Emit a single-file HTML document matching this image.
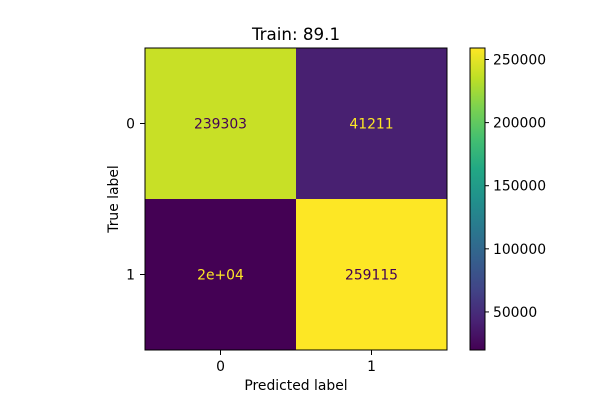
<!DOCTYPE html>
<html><head><meta charset="utf-8"><style>
html,body{margin:0;padding:0;background:#fff;}
svg text{font-family:"DejaVu Sans","Liberation Sans",sans-serif;}
</style></head><body>
<svg id="chart" width="600" height="400" xmlns="http://www.w3.org/2000/svg">
<defs>
<linearGradient id="vir" x1="0" y1="1" x2="0" y2="0">
<stop offset="0" stop-color="#440154"/><stop offset="0.1" stop-color="#482475"/>
<stop offset="0.2" stop-color="#414487"/><stop offset="0.3" stop-color="#355f8d"/>
<stop offset="0.4" stop-color="#2a788e"/><stop offset="0.5" stop-color="#21918c"/>
<stop offset="0.6" stop-color="#22a884"/><stop offset="0.7" stop-color="#44bf70"/>
<stop offset="0.8" stop-color="#7ad151"/><stop offset="0.9" stop-color="#bddf26"/>
<stop offset="1" stop-color="#fde725"/>
</linearGradient>
</defs>
<text x="296" y="40" text-anchor="middle" font-size="16.7" fill="#000">Train: 89.1</text>
<g id="cells"></g>
<rect x="145" y="48" width="302" height="302" fill="none" stroke="#000" stroke-width="1"/>
<g id="ticks"></g>
<text x="296" y="390" text-anchor="middle" font-size="13.9">Predicted label</text>
<text transform="translate(118,199) rotate(-90)" text-anchor="middle" font-size="13.9">True label</text>
<rect x="470" y="48" width="15" height="302" fill="url(#vir)" stroke="#000" stroke-width="1"/>
<g id="cbticks"></g>
</svg>
<script>
const classes = ["0","1"];
const values = [[239303, 41211],[19841, 259115]];
const valueLabels = [["239303","41211"],["2e+04","259115"]];
const cbTicks = [50000,100000,150000,200000,250000];
const cbTickLabels = ["50000","100000","150000","200000","250000"];

const vmin = 19841, vmax = 259115;
const NS = "http://www.w3.org/2000/svg";
const x0=145, y0=48, size=302, n=classes.length, cw=size/n;
const cbTop=48, cbBot=350, cbX=485;
const vir=["#440154","#482475","#414487","#355f8d","#2a788e","#21918c","#22a884","#44bf70","#7ad151","#bddf26","#fde725"];
function hex(c){return [1,3,5].map(i=>parseInt(c.substr(i,2),16));}
function cmap(t){t=Math.max(0,Math.min(1,t));const p=t*10,i=Math.min(9,Math.floor(p)),f=p-i;
 const a=hex(vir[i]),b=hex(vir[i+1]);return "rgb("+a.map((v,k)=>Math.round(v+(b[k]-v)*f)).join(",")+")";}
function norm(v){return (v-vmin)/(vmax-vmin);}
function cbY(v){return cbBot-norm(v)*(cbBot-cbTop);}
function el(tag,attrs,parent){const e=document.createElementNS(NS,tag);for(const k in attrs)e.setAttribute(k,attrs[k]);parent.appendChild(e);return e;}
const cells=document.getElementById("cells"), ticks=document.getElementById("ticks"), cb=document.getElementById("cbticks");
for(let r=0;r<n;r++)for(let c=0;c<n;c++){
 const v=values[r][c], t=norm(v);
 const rc=el("rect",{x:x0+c*cw,y:y0+r*cw,width:cw,height:cw,fill:cmap(t)},cells);
 
 
 const tx=el("text",{x:x0+c*cw+cw/2,y:y0+r*cw+cw/2+5,"text-anchor":"middle","font-size":"13.9",fill:t<0.5?"#fde725":"#440154"},cells);
 tx.textContent=valueLabels[r][c];
 
 
}
classes.forEach((lab,i)=>{
 const cx=x0+i*cw+cw/2;
 el("line",{x1:cx,x2:cx,y1:350,y2:355,stroke:"#000"},ticks);
 const t=el("text",{x:cx,y:371,"text-anchor":"middle","font-size":"13.9"},ticks);t.textContent=lab;
 
 
 el("line",{x1:140,x2:145,y1:cx-x0+y0,y2:cx-x0+y0,stroke:"#000"},ticks);
 const u=el("text",{x:135,y:cx-x0+y0+5,"text-anchor":"end","font-size":"13.9"},ticks);u.textContent=lab;
 
 
});
cbTicks.forEach((v,i)=>{
 const y=cbY(v);
 el("line",{x1:cbX,x2:cbX+4,y1:y,y2:y,stroke:"#000"},cb);
 const t=el("text",{x:cbX+8,y:y+5,"font-size":"13.9"},cb);t.textContent=cbTickLabels[i];
 
 
});
</script>
</body></html>
